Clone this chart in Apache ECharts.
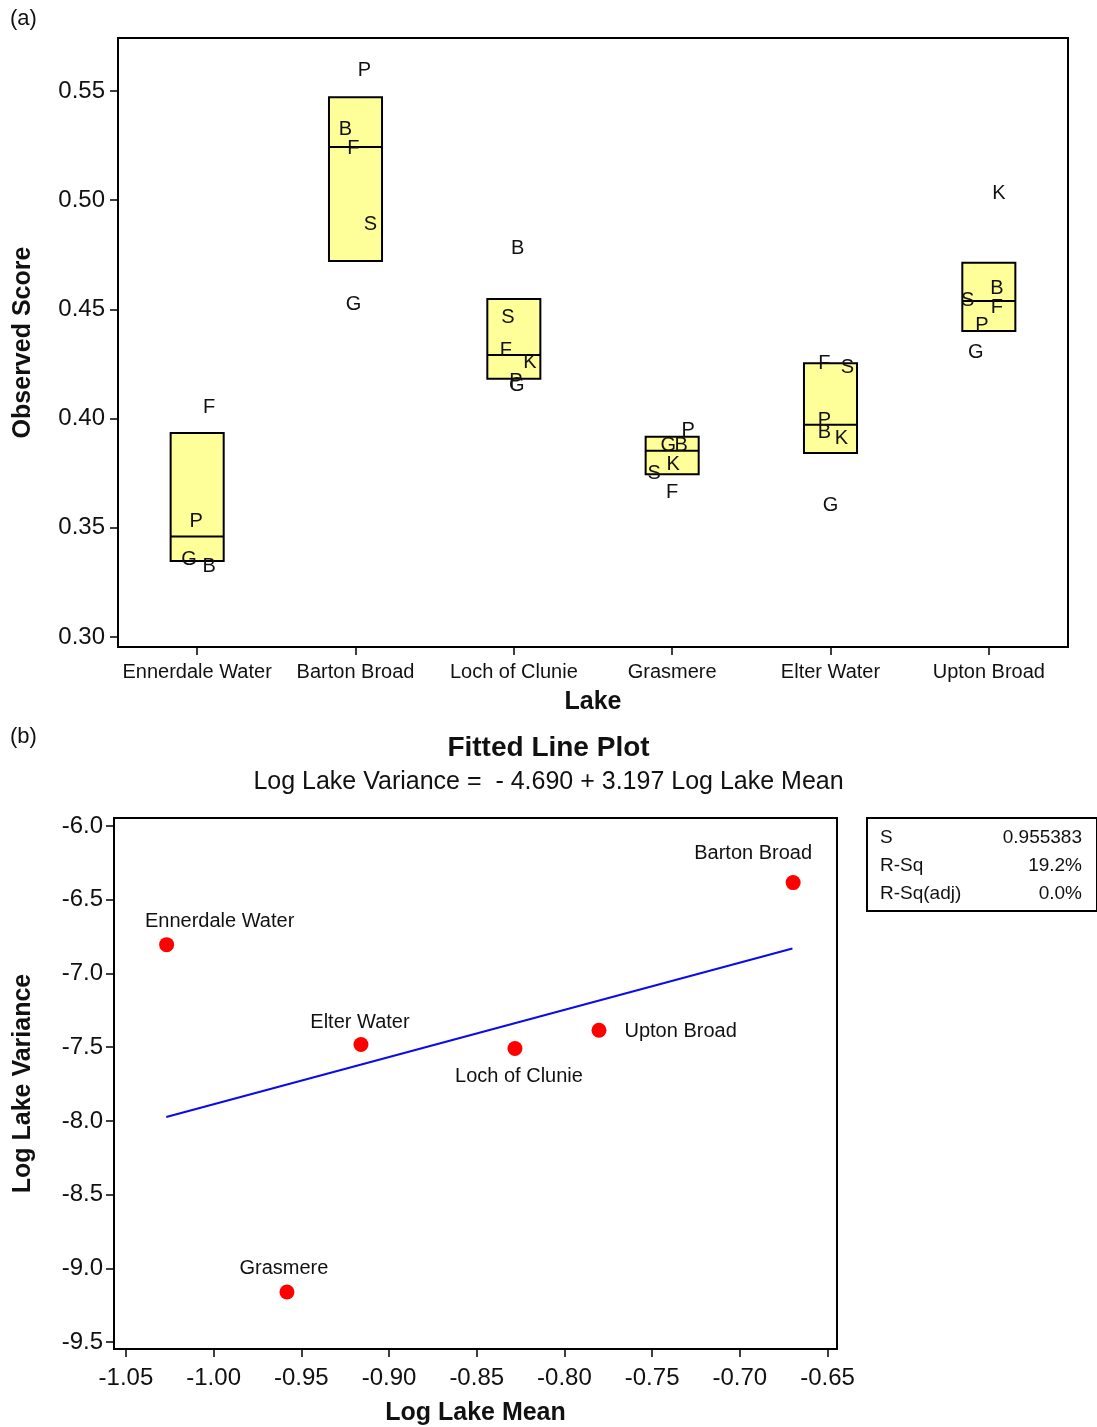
<!DOCTYPE html>
<html>
<head>
<meta charset="utf-8">
<script src="https://cdn.jsdelivr.net/npm/echarts@6/dist/echarts.min.js"></script>
<style>
html,body{margin:0;padding:0;background:#fff;}
#chart{width:1097px;height:1427px;}
</style>
</head>
<body>
<div id="chart"></div>
<script>
// ---------- DATA ----------
const lakes = ['Ennerdale Water', 'Barton Broad', 'Loch of Clunie', 'Grasmere', 'Elter Water', 'Upton Broad'];

// Panel (a): observed scores per assessor letter (null = absent)
const scoreB = [0.3334, 0.5331, 0.4790, 0.3888, 0.3945, 0.4604];
const scoreF = [0.4058, 0.5244, 0.4319, 0.3673, 0.4261, 0.4520];
const scoreG = [0.3366, 0.4534, 0.4163, 0.3888, 0.3611, 0.4314];
const scoreK = [null, null, 0.4264, 0.3797, 0.3917, 0.5039];
const scoreP = [0.3536, 0.5605, 0.4177, 0.3957, 0.4002, 0.4436];
const scoreS = [null, 0.4900, 0.4470, 0.3757, 0.4245, 0.4550];
// horizontal jitter of each letter, in category widths
const jitterB = [0.076, -0.063, 0.025, 0.057, -0.038, 0.051];
const jitterF = [0.076, -0.013, -0.051, 0.000, -0.038, 0.051];
const jitterG = [-0.051, -0.013, 0.019, -0.025, 0.000, -0.082];
const jitterK = [0, 0, 0.101, 0.006, 0.069, 0.063];
const jitterP = [-0.006, 0.057, 0.013, 0.101, -0.038, -0.044];
const jitterS = [0, 0.095, -0.038, -0.114, 0.107, -0.133];

// Box: first quartile, median, third quartile
const boxQ1 = [0.3348, 0.4722, 0.4182, 0.3745, 0.3843, 0.4401];
const boxMedian = [0.3460, 0.5244, 0.4291, 0.3853, 0.3972, 0.4538];
const boxQ3 = [0.3934, 0.5472, 0.4548, 0.3917, 0.4254, 0.4714];
const yTicksA = [0.30, 0.35, 0.40, 0.45, 0.50, 0.55];

// Panel (b): log lake mean / log lake variance (same lake order)
const logLakeMean = [-1.0268, -0.6696, -0.8282, -0.9582, -0.9160, -0.7803];
const logLakeVariance = [-6.805, -6.384, -7.509, -9.160, -7.482, -7.385];
const fitLineX = [-1.027, -0.670];
const fitLineY = [-7.974, -6.831];
const xTicksB = [-1.05, -1.00, -0.95, -0.90, -0.85, -0.80, -0.75, -0.70, -0.65];
const yTicksB = [-9.5, -9.0, -8.5, -8.0, -7.5, -7.0, -6.5, -6.0];
const statNames = ['S', 'R-Sq', 'R-Sq(adj)'];
const statValues = ['0.955383', '19.2%', '0.0%'];

// ---------- BUILD ----------
const FONT = '"Liberation Sans", Arial, sans-serif';
const INK = '#111';

const letterSets = [
  ['B', scoreB, jitterB], ['F', scoreF, jitterF], ['G', scoreG, jitterG],
  ['K', scoreK, jitterK], ['P', scoreP, jitterP], ['S', scoreS, jitterS]
];
const letterData = [];
const letterText = [];
letterSets.forEach(([ch, vals, jit]) => {
  vals.forEach((v, i) => {
    if (v == null) return;
    letterData.push([i, v, jit[i]]);
    letterText.push(ch);
  });
});
const boxData = lakes.map((_, i) => [i, boxQ1[i], boxMedian[i], boxQ3[i]]);

const labelPlacement = {
  'Ennerdale Water': {position: 'top', offset: [53, -1]},
  'Barton Broad': {position: 'top', offset: [-40, -7]},
  'Loch of Clunie': {position: 'bottom', offset: [4, 6]},
  'Grasmere': {position: 'top', offset: [-3, -1]},
  'Elter Water': {position: 'top', offset: [-1, 0]},
  'Upton Broad': {position: 'right', offset: [13, 1]}
};
const pointData = lakes.map((name, i) => ({
  name: name,
  value: [logLakeMean[i], logLakeVariance[i]],
  label: labelPlacement[name]
}));

const tickStyle = {show: true, length: 8, inside: false, lineStyle: {color: '#000', width: 1.5}};
const labelBase = {color: INK, fontFamily: FONT};

const chart = echarts.init(document.getElementById('chart'), null, {renderer: 'canvas'});
const option = {
  backgroundColor: '#fff',
  animation: false,
  textStyle: {fontFamily: FONT, color: INK},
  title: [
    {text: 'Fitted Line Plot', left: 'center', top: 729,
      textStyle: {fontFamily: FONT, fontSize: 28, fontWeight: 'bold', color: INK}},
    {text: 'Log Lake Variance =  - 4.690 + 3.197 Log Lake Mean', left: 'center', top: 765,
      textStyle: {fontFamily: FONT, fontSize: 25, fontWeight: 'normal', color: INK}}
  ],
  grid: [
    {left: 118, top: 38, width: 950, height: 609, show: true, borderColor: '#000', borderWidth: 2, backgroundColor: '#fff'},
    {left: 114, top: 818, width: 723, height: 532, show: true, borderColor: '#000', borderWidth: 2, backgroundColor: '#fff'}
  ],
  xAxis: [
    {
      gridIndex: 0, type: 'category', data: lakes, boundaryGap: true,
      axisLine: {show: false},
      axisTick: Object.assign({}, tickStyle, {alignWithLabel: true, interval: 0}),
      axisLabel: Object.assign({}, labelBase, {fontSize: 20, margin: 15, interval: 0}),
      splitLine: {show: false},
      name: 'Lake', nameLocation: 'middle', nameGap: 43,
      nameTextStyle: {fontFamily: FONT, fontSize: 25, fontWeight: 'bold', color: INK}
    },
    {
      gridIndex: 1, type: 'value', min: -1.0568, max: -0.6446,
      axisLine: {show: false},
      axisTick: Object.assign({}, tickStyle, {customValues: xTicksB}),
      axisLabel: Object.assign({}, labelBase, {fontSize: 24, margin: 17, customValues: xTicksB,
        formatter: v => v.toFixed(2)}),
      splitLine: {show: false},
      name: 'Log Lake Mean', nameLocation: 'middle', nameGap: 52,
      nameTextStyle: {fontFamily: FONT, fontSize: 25, fontWeight: 'bold', color: INK}
    }
  ],
  yAxis: [
    {
      gridIndex: 0, type: 'value', min: 0.2954, max: 0.5743,
      axisLine: {show: false},
      axisTick: Object.assign({}, tickStyle, {customValues: yTicksA}),
      axisLabel: Object.assign({}, labelBase, {fontSize: 24, margin: 13, customValues: yTicksA,
        formatter: v => v.toFixed(2)}),
      splitLine: {show: false},
      name: 'Observed Score', nameLocation: 'middle', nameGap: 82,
      nameTextStyle: {fontFamily: FONT, fontSize: 25, fontWeight: 'bold', color: INK}
    },
    {
      gridIndex: 1, type: 'value', min: -9.547, max: -5.946,
      axisLine: {show: false},
      axisTick: Object.assign({}, tickStyle, {customValues: yTicksB}),
      axisLabel: Object.assign({}, labelBase, {fontSize: 24, margin: 11, customValues: yTicksB,
        formatter: v => v.toFixed(1)}),
      splitLine: {show: false},
      name: 'Log Lake Variance', nameLocation: 'middle', nameGap: 78,
      nameTextStyle: {fontFamily: FONT, fontSize: 25, fontWeight: 'bold', color: INK}
    }
  ],
  series: [
    {
      type: 'custom', xAxisIndex: 0, yAxisIndex: 0, z: 2,
      data: boxData,
      renderItem: function (params, api) {
        const i = api.value(0);
        const lo = api.coord([i, api.value(1)]);
        const md = api.coord([i, api.value(2)]);
        const hi = api.coord([i, api.value(3)]);
        const bw = api.size([1, 0])[0] * 0.335;
        return {
          type: 'group',
          children: [
            {type: 'rect', shape: {x: md[0] - bw / 2, y: hi[1], width: bw, height: lo[1] - hi[1]},
              style: {fill: '#FFFF99', stroke: '#000', lineWidth: 2}},
            {type: 'line', shape: {x1: md[0] - bw / 2, y1: md[1], x2: md[0] + bw / 2, y2: md[1]},
              style: {stroke: '#000', lineWidth: 2}}
          ]
        };
      }
    },
    {
      type: 'custom', xAxisIndex: 0, yAxisIndex: 0, z: 5,
      data: letterData,
      renderItem: function (params, api) {
        const p = api.coord([api.value(0), api.value(1)]);
        const w = api.size([1, 0])[0];
        return {
          type: 'text',
          x: p[0] + api.value(2) * w,
          y: p[1] + 2,
          style: {text: letterText[params.dataIndex], align: 'center', verticalAlign: 'middle',
            font: '20px ' + FONT, fill: INK}
        };
      }
    },
    {
      type: 'line', xAxisIndex: 1, yAxisIndex: 1, z: 3,
      data: fitLineX.map((x, i) => [x, fitLineY[i]]),
      showSymbol: false, symbol: 'none',
      lineStyle: {color: '#0A0AEE', width: 2}
    },
    {
      type: 'scatter', xAxisIndex: 1, yAxisIndex: 1, z: 4,
      data: pointData,
      symbol: 'circle', symbolSize: 15,
      itemStyle: {color: '#FF0000', opacity: 1},
      label: {show: true, formatter: '{b}', fontFamily: FONT, fontSize: 20, color: INK, opacity: 1, distance: 5},
      emphasis: {disabled: true}
    }
  ],
  graphic: [
    {type: 'text', left: 10, top: 8, style: {text: '(a)', font: '22px ' + FONT, fill: INK}},
    {type: 'text', left: 10, top: 726, style: {text: '(b)', font: '22px ' + FONT, fill: INK}},
    {type: 'rect', left: 866, top: 817, shape: {width: 230, height: 93},
      style: {fill: '#fff', stroke: '#000', lineWidth: 2}},
    ...statNames.map((s, i) => ({type: 'text', left: 880, top: 828 + i * 28,
      style: {text: s, font: '19px ' + FONT, fill: INK}})),
    ...statValues.map((s, i) => ({type: 'text', right: 15, top: 828 + i * 28,
      style: {text: s, font: '19px ' + FONT, fill: INK}}))
  ]
};
chart.setOption(option);
</script>
</body>
</html>
